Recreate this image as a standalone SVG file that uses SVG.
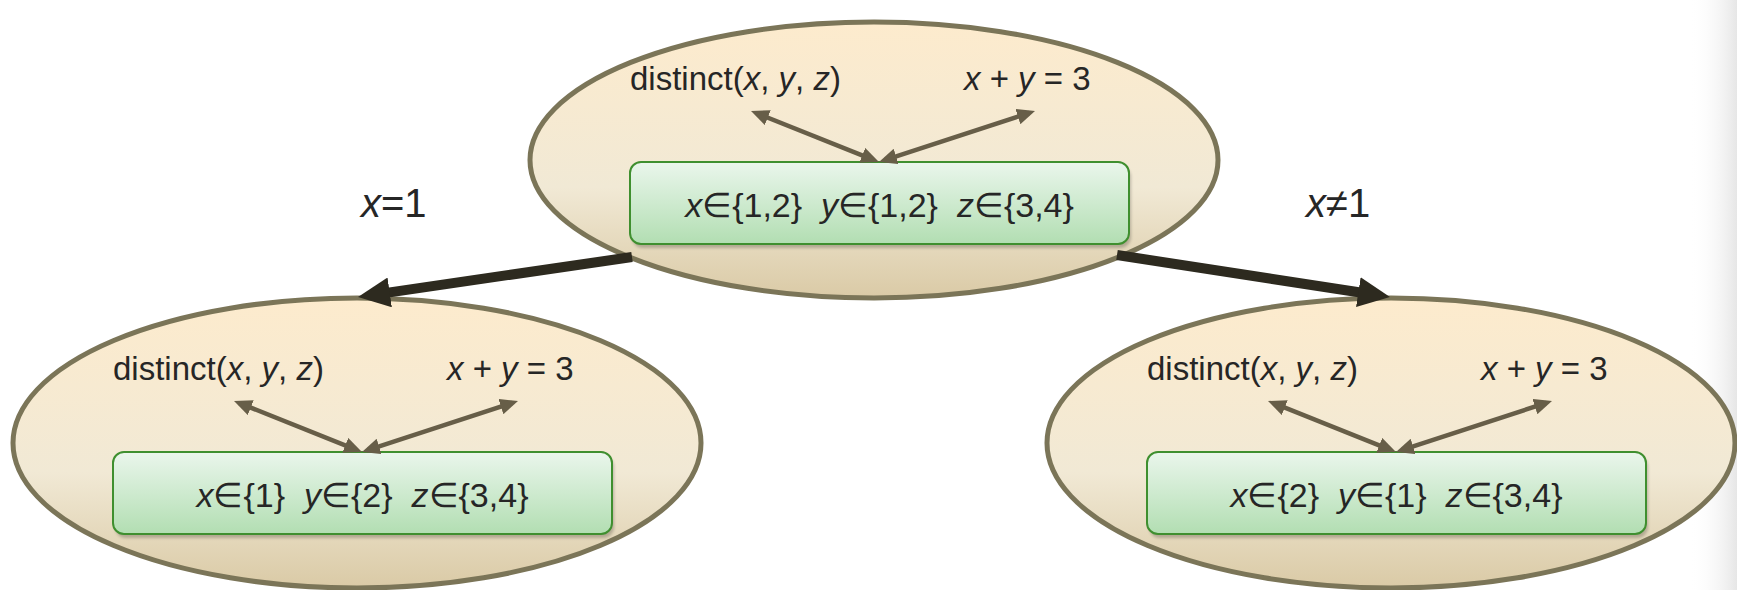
<svg xmlns="http://www.w3.org/2000/svg" width="1737" height="590" viewBox="0 0 1737 590">
<defs>
<linearGradient id="ellFill" x1="0" y1="0" x2="0" y2="1">
<stop offset="0" stop-color="#fdebcd"/>
<stop offset="0.6" stop-color="#f1e9d5"/>
<stop offset="1" stop-color="#dacaa6"/>
</linearGradient>
<linearGradient id="boxFill" x1="0" y1="0" x2="0" y2="1">
<stop offset="0" stop-color="#eaf6ec"/>
<stop offset="1" stop-color="#b2deb2"/>
</linearGradient>
<linearGradient id="edgeShade" x1="0" y1="0" x2="1" y2="0">
<stop offset="0" stop-color="#ffffff" stop-opacity="0"/>
<stop offset="1" stop-color="#e6e6e6"/>
</linearGradient>
<filter id="shadow" x="-5%" y="-20%" width="110%" height="150%">
<feGaussianBlur stdDeviation="1.5"/>
</filter>
<marker id="bigHead" markerUnits="userSpaceOnUse" viewBox="0 0 32 30" refX="12" refY="15" markerWidth="32" markerHeight="30" orient="auto">
<path d="M0,0 L32,15 L0,30 z" fill="#2d2a1f"/>
</marker>
<marker id="smallHead" markerUnits="userSpaceOnUse" viewBox="0 0 18 16" refX="12" refY="8" markerWidth="18" markerHeight="16" orient="auto-start-reverse">
<path d="M0,0 L18,8 L0,16 z" fill="#675e48"/>
</marker>
</defs>
<style>
.ell{fill:url(#ellFill);stroke:#7b7558;stroke-width:5}
.box{fill:url(#boxFill);stroke:#3f8f2f;stroke-width:2}
.shd{fill:#000;opacity:0.22;filter:url(#shadow)}
.t{font-family:"Liberation Sans",Arial,sans-serif;fill:#262626;white-space:pre}
.c{font-size:33px}
.d{font-size:34px}
.lab{font-size:40px}
.i{font-style:italic}
.big{fill:none;stroke:#2d2a1f;stroke-width:10;marker-end:url(#bigHead)}
.small{fill:none;stroke:#675e48;stroke-width:4.5;marker-start:url(#smallHead);marker-end:url(#smallHead)}
</style>
<rect x="1690" y="0" width="47" height="590" fill="url(#edgeShade)"/>

<g id="node-root" transform="translate(630,162)">
<ellipse class="ell" cx="244" cy="-2" rx="344" ry="138"/>
<text class="t c" x="0" y="-72">distinct(<tspan class="i">x</tspan>, <tspan class="i">y</tspan>, <tspan class="i">z</tspan>)</text>
<text class="t c" x="334" y="-72"><tspan class="i">x</tspan> + <tspan class="i">y</tspan> = 3</text>
<g id="root-domains">
<rect class="shd" x="2" y="4" width="499" height="82" rx="11"/>
<rect class="box" x="0" y="0" width="499" height="82" rx="11"/>
<text class="t d" x="249.5" y="55" text-anchor="middle"><tspan class="i">x</tspan>∈{1,2}  <tspan class="i">y</tspan>∈{1,2}  <tspan class="i">z</tspan>∈{3,4}</text>
</g>
</g>

<g id="node-left" transform="translate(113,452)">
<ellipse class="ell" cx="244" cy="-9" rx="344" ry="145"/>
<text class="t c" x="0" y="-72">distinct(<tspan class="i">x</tspan>, <tspan class="i">y</tspan>, <tspan class="i">z</tspan>)</text>
<text class="t c" x="334" y="-72"><tspan class="i">x</tspan> + <tspan class="i">y</tspan> = 3</text>
<g id="left-domains">
<rect class="shd" x="2" y="4" width="499" height="82" rx="11"/>
<rect class="box" x="0" y="0" width="499" height="82" rx="11"/>
<text class="t d" x="249.5" y="55" text-anchor="middle"><tspan class="i">x</tspan>∈{1}  <tspan class="i">y</tspan>∈{2}  <tspan class="i">z</tspan>∈{3,4}</text>
</g>
</g>

<g id="node-right" transform="translate(1147,452)">
<ellipse class="ell" cx="244" cy="-9" rx="344" ry="145"/>
<text class="t c" x="0" y="-72">distinct(<tspan class="i">x</tspan>, <tspan class="i">y</tspan>, <tspan class="i">z</tspan>)</text>
<text class="t c" x="334" y="-72"><tspan class="i">x</tspan> + <tspan class="i">y</tspan> = 3</text>
<g id="right-domains">
<rect class="shd" x="2" y="4" width="499" height="82" rx="11"/>
<rect class="box" x="0" y="0" width="499" height="82" rx="11"/>
<text class="t d" x="249.5" y="55" text-anchor="middle"><tspan class="i">x</tspan>∈{2}  <tspan class="i">y</tspan>∈{1}  <tspan class="i">z</tspan>∈{3,4}</text>
</g>
</g>

<g id="connectors">
<line class="big" x1="632" y1="257" x2="377.8" y2="294.1"/>
<line class="big" x1="1117" y1="255" x2="1370.2" y2="294"/>
<text class="t lab" x="361" y="217"><tspan class="i">x</tspan>=1</text>
<text class="t lab" x="1306" y="217"><tspan class="i">x</tspan>≠1</text>
<g transform="translate(630,162)">
<line class="small" x1="126.6" y1="-48.8" x2="243.4" y2="-2.2"/>
<line class="small" x1="399.3" y1="-49.1" x2="254.7" y2="-1.9"/>
</g>
<g transform="translate(113,452)">
<line class="small" x1="126.6" y1="-48.8" x2="243.4" y2="-2.2"/>
<line class="small" x1="399.3" y1="-49.1" x2="254.7" y2="-1.9"/>
</g>
<g transform="translate(1147,452)">
<line class="small" x1="126.6" y1="-48.8" x2="243.4" y2="-2.2"/>
<line class="small" x1="399.3" y1="-49.1" x2="254.7" y2="-1.9"/>
</g>
</g>
</svg>
